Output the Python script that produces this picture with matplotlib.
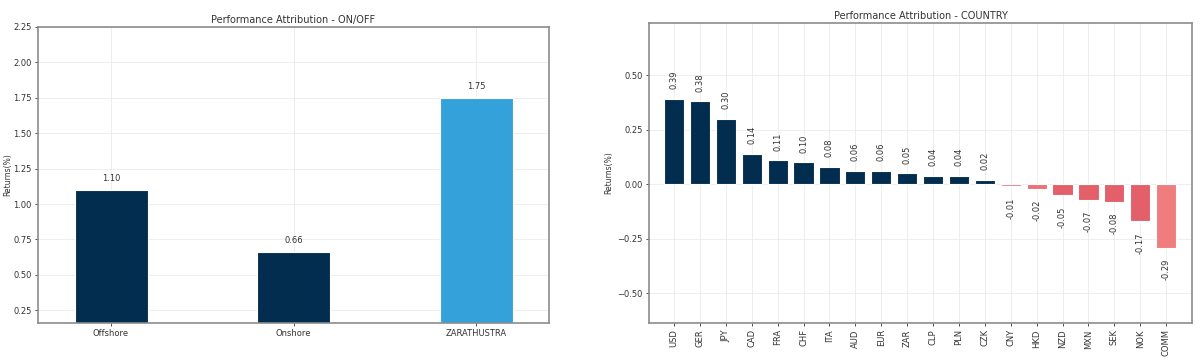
import matplotlib
matplotlib.use('Agg')
import matplotlib.pyplot as plt

# left panel data
onoff_labels = ['Offshore', 'Onshore', 'ZARATHUSTRA']
onoff_values = [1.10, 0.66, 1.75]
onoff_colors = ['#032d4e', '#032d4e', '#35a1da']

# right panel data
country_labels = ['USD', 'GER', 'JPY', 'CAD', 'FRA', 'CHF', 'ITA', 'AUD', 'EUR', 'ZAR',
                  'CLP', 'PLN', 'CZK', 'CNY', 'HKD', 'NZD', 'MXN', 'SEK', 'NOK', 'COMM']
country_values = [0.39, 0.38, 0.30, 0.14, 0.11, 0.10, 0.08, 0.06, 0.06, 0.05,
                  0.04, 0.04, 0.02, -0.01, -0.02, -0.05, -0.07, -0.08, -0.17, -0.29]
country_colors = ['#032d4e'] * 13 + ['#ef8085', '#ea7278', '#e3606a', '#e3606a',
                                     '#e3606a', '#e3606a', '#f07d7d']

W, H = 1200, 363
fig = plt.figure(figsize=(12, 3.63), dpi=100)
ax1 = fig.add_axes([38 / W, 1 - 323 / H, (549 - 38) / W, (323 - 27) / H])
ax2 = fig.add_axes([649 / W, 1 - 323 / H, (1192 - 649) / W, (323 - 23) / H])

for ax in (ax1, ax2):
    ax.grid(True, color='#ebebeb', linewidth=0.6)
    ax.set_axisbelow(True)
    for s in ax.spines.values():
        s.set_color('#8c8c8c')
        s.set_linewidth(1.2)
    ax.tick_params(labelsize=6, colors='#333333', length=2.5, width=0.6, pad=2)
    ax.set_ylabel('Returns(%)', fontsize=5.5, color='#333333')

ax1.yaxis.set_label_coords(-25.5 / (549 - 38), 0.5)
ax2.yaxis.set_label_coords(-36 / (1192 - 649), 0.5)

# ON/OFF
bars = ax1.bar(range(len(onoff_values)), onoff_values, width=0.4, color=onoff_colors,
               edgecolor='white', linewidth=0.8)
for b, v in zip(bars, onoff_values):
    ax1.annotate('%.2f' % v, (b.get_x() + b.get_width() / 2, v), xytext=(0, 5),
                 textcoords='offset points', ha='center', va='bottom', fontsize=6, color='#333333')
ax1.set_xticks(range(len(onoff_labels)))
ax1.set_xticklabels(onoff_labels)
ax1.set_xlim(-0.4, 2.4)
ax1.set_ylim(0.16, 2.25)
ax1.set_yticks([0.25, 0.5, 0.75, 1.0, 1.25, 1.5, 1.75, 2.0, 2.25])
ax1.set_title('Performance Attribution - ON/OFF', fontsize=7, color='#333333', pad=3)

# COUNTRY
bars = ax2.bar(range(len(country_values)), country_values, width=0.78, color=country_colors,
               edgecolor='white', linewidth=0.8)
for b, v in zip(bars, country_values):
    off = 7 if v >= 0 else -8
    ax2.annotate('%.2f' % v, (b.get_x() + b.get_width() / 2, v), xytext=(0, off),
                 textcoords='offset points', ha='center', va='bottom' if v >= 0 else 'top',
                 rotation=90, fontsize=6, color='#333333')
ax2.set_xticks(range(len(country_labels)))
ax2.set_xticklabels(country_labels, rotation=90)
ax2.set_xlim(-0.97, 20)
ax2.set_ylim(-0.636, 0.739)
ax2.set_yticks([-0.5, -0.25, 0, 0.25, 0.5])
ax2.set_title('Performance Attribution - COUNTRY', fontsize=7, color='#333333', pad=3)

fig.savefig('out.png', dpi=100)
